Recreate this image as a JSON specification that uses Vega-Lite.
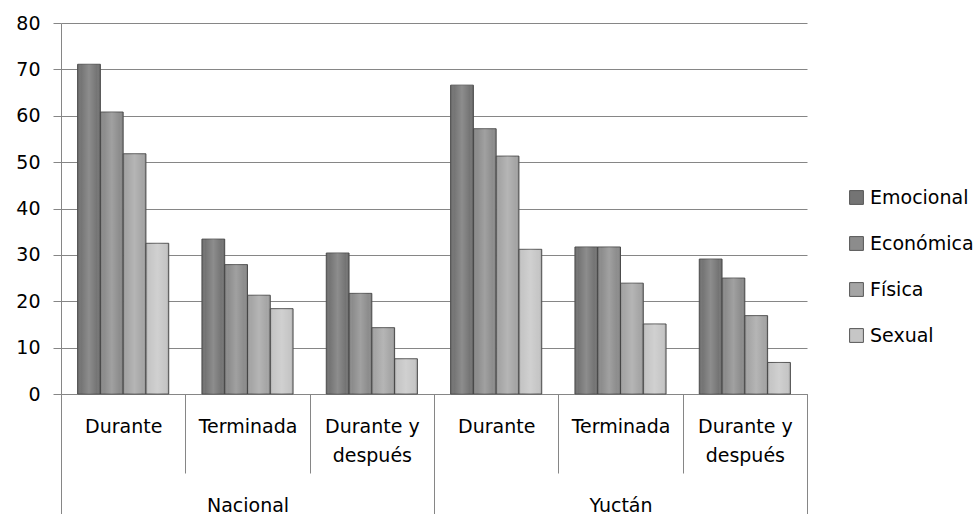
{
  "$schema": "https://vega.github.io/schema/vega-lite/v6.json",
  "autosize": {"type": "none"},
  "padding": {"left": 61, "top": 23, "right": 172, "bottom": 120},
  "width": 746,
  "height": 371,
  "background": "white",
  "config": {
    "view": {"stroke": null},
    "font": "DejaVu Sans"
  },
  "data": {
    "values": [
      {"region": "Nacional", "cat": "Durante", "key": "Nacional|Durante", "serie": "Emocional", "valor": 71.1},
      {"region": "Nacional", "cat": "Durante", "key": "Nacional|Durante", "serie": "Económica", "valor": 60.8},
      {"region": "Nacional", "cat": "Durante", "key": "Nacional|Durante", "serie": "Física", "valor": 51.8},
      {"region": "Nacional", "cat": "Durante", "key": "Nacional|Durante", "serie": "Sexual", "valor": 32.5},
      {"region": "Nacional", "cat": "Terminada", "key": "Nacional|Terminada", "serie": "Emocional", "valor": 33.4},
      {"region": "Nacional", "cat": "Terminada", "key": "Nacional|Terminada", "serie": "Económica", "valor": 27.9},
      {"region": "Nacional", "cat": "Terminada", "key": "Nacional|Terminada", "serie": "Física", "valor": 21.3},
      {"region": "Nacional", "cat": "Terminada", "key": "Nacional|Terminada", "serie": "Sexual", "valor": 18.4},
      {"region": "Nacional", "cat": "Durante y después", "key": "Nacional|Durante y después", "serie": "Emocional", "valor": 30.4},
      {"region": "Nacional", "cat": "Durante y después", "key": "Nacional|Durante y después", "serie": "Económica", "valor": 21.7},
      {"region": "Nacional", "cat": "Durante y después", "key": "Nacional|Durante y después", "serie": "Física", "valor": 14.3},
      {"region": "Nacional", "cat": "Durante y después", "key": "Nacional|Durante y después", "serie": "Sexual", "valor": 7.6},
      {"region": "Yuctán", "cat": "Durante", "key": "Yuctán|Durante", "serie": "Emocional", "valor": 66.6},
      {"region": "Yuctán", "cat": "Durante", "key": "Yuctán|Durante", "serie": "Económica", "valor": 57.2},
      {"region": "Yuctán", "cat": "Durante", "key": "Yuctán|Durante", "serie": "Física", "valor": 51.3},
      {"region": "Yuctán", "cat": "Durante", "key": "Yuctán|Durante", "serie": "Sexual", "valor": 31.2},
      {"region": "Yuctán", "cat": "Terminada", "key": "Yuctán|Terminada", "serie": "Emocional", "valor": 31.7},
      {"region": "Yuctán", "cat": "Terminada", "key": "Yuctán|Terminada", "serie": "Económica", "valor": 31.7},
      {"region": "Yuctán", "cat": "Terminada", "key": "Yuctán|Terminada", "serie": "Física", "valor": 23.9},
      {"region": "Yuctán", "cat": "Terminada", "key": "Yuctán|Terminada", "serie": "Sexual", "valor": 15.1},
      {"region": "Yuctán", "cat": "Durante y después", "key": "Yuctán|Durante y después", "serie": "Emocional", "valor": 29.1},
      {"region": "Yuctán", "cat": "Durante y después", "key": "Yuctán|Durante y después", "serie": "Económica", "valor": 25.0},
      {"region": "Yuctán", "cat": "Durante y después", "key": "Yuctán|Durante y después", "serie": "Física", "valor": 16.9},
      {"region": "Yuctán", "cat": "Durante y después", "key": "Yuctán|Durante y después", "serie": "Sexual", "valor": 6.8}
    ]
  },
  "resolve": {"scale": {"x": "independent"}, "axis": {"x": "independent"}},
  "layer": [
    {
      "encoding": {
        "x": {
          "field": "key", "type": "nominal", "sort": null,
          "scale": {"paddingInner": 0.267, "paddingOuter": 0.1335},
          "axis": null
        },
        "xOffset": {
          "field": "serie", "type": "nominal",
          "sort": ["Emocional", "Económica", "Física", "Sexual"],
          "scale": {"paddingInner": 0, "paddingOuter": 0}
        },
        "y": {
          "field": "valor", "type": "quantitative",
          "scale": {"domain": [0, 80], "nice": false},
          "axis": {
            "title": null,
            "values": [0, 10, 20, 30, 40, 50, 60, 70, 80],
            "tickSize": 8,
            "tickColor": "#868686",
            "domainColor": "#868686",
            "gridColor": "#868686",
            "gridWidth": 1,
            "labelPadding": 13,
            "labelFont": "DejaVu Sans",
            "labelFontSize": 19,
            "labelColor": "#000000"
          }
        }
      },
      "layer": [
        {
          "mark": {"type": "bar", "stroke": "#555555", "strokeWidth": 1},
          "encoding": {
            "color": {
              "field": "serie", "type": "nominal",
              "sort": ["Emocional", "Económica", "Física", "Sexual"],
              "scale": {"range": ["#747474", "#8c8c8c", "#a5a5a5", "#c6c6c6"]},
              "legend": {
                "title": null,
                "orient": "none",
                "legendX": 786,
                "legendY": 165,
                "padding": 0,
                "symbolType": "square",
                "symbolSize": 190,
                "symbolStrokeColor": "#555555",
                "symbolStrokeWidth": 1,
                "symbolOffset": 0,
                "labelOffset": 4,
                "labelFont": "DejaVu Sans",
                "labelFontSize": 19,
                "labelColor": "#000000",
                "rowPadding": 26
              }
            }
          }
        },
        {
          "mark": {
            "type": "bar",
            "strokeOpacity": 0,
            "fill": {
              "gradient": "linear",
              "x1": 0, "y1": 0, "x2": 1, "y2": 0,
              "stops": [
                {"offset": 0, "color": "rgba(0,0,0,0.18)"},
                {"offset": 0.15, "color": "rgba(255,255,255,0.0)"},
                {"offset": 0.5, "color": "rgba(255,255,255,0.18)"},
                {"offset": 0.85, "color": "rgba(255,255,255,0.0)"},
                {"offset": 1, "color": "rgba(0,0,0,0.22)"}
              ]
            }
          },
          "encoding": {}
        }
      ]
    },
    {
      "mark": {"type": "rule", "strokeOpacity": 0},
      "encoding": {
        "x": {
          "field": "key", "type": "nominal", "sort": null,
          "scale": {"paddingInner": 0, "paddingOuter": 0},
          "axis": {
            "orient": "bottom",
            "title": null,
            "labelAngle": 0,
            "tickBand": "extent",
            "tickSize": 79,
            "tickColor": "#868686",
            "domainColor": "#868686",
            "labelPadding": -56,
            "labelFont": "DejaVu Sans",
            "labelFontSize": 19,
            "labelColor": "#000000",
            "labelLineHeight": 29,
            "labelBaseline": "top",
            "labelExpr": "split(datum.value, '|')[1] == 'Durante y después' ? ['Durante y', 'después'] : split(datum.value, '|')[1]"
          }
        }
      }
    },
    {
      "mark": {"type": "rule", "strokeOpacity": 0},
      "encoding": {
        "x": {
          "field": "region", "type": "nominal", "sort": null,
          "scale": {"paddingInner": 0, "paddingOuter": 0},
          "axis": {
            "orient": "bottom",
            "title": null,
            "labelAngle": 0,
            "domain": false,
            "tickBand": "extent",
            "tickSize": 121,
            "tickColor": "#868686",
            "labelPadding": -19,
            "labelFont": "DejaVu Sans",
            "labelFontSize": 19,
            "labelColor": "#000000",
            "labelBaseline": "top"
          }
        }
      }
    }
  ]
}
